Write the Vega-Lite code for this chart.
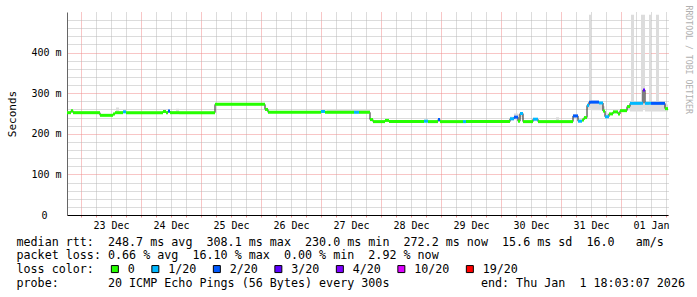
{
  "$schema": "https://vega.github.io/schema/vega-lite/v6.json",
  "width": 601,
  "height": 203,
  "autosize": {"type": "none"},
  "padding": {"left": 67, "top": 12, "right": 29, "bottom": 82},
  "background": "#ffffff",
  "data": {
    "values": [
      {"t": "2025-12-22T18:24:00Z", "rtt": 0.252, "loss": 0, "lo": 0.250, "hi": 0.255},
      {"t": "2025-12-22T20:00:00Z", "rtt": 0.257, "loss": 0, "lo": 0.255, "hi": 0.259},
      {"t": "2025-12-22T20:48:00Z", "rtt": 0.252, "loss": 0, "lo": 0.250, "hi": 0.255},
      {"t": "2025-12-23T07:36:00Z", "rtt": 0.2455, "loss": 0, "lo": 0.244, "hi": 0.248},
      {"t": "2025-12-23T12:48:00Z", "rtt": 0.249, "loss": 0, "lo": 0.247, "hi": 0.251},
      {"t": "2025-12-23T13:36:00Z", "rtt": 0.252, "loss": 0, "lo": 0.250, "hi": 0.255},
      {"t": "2025-12-23T14:00:00Z", "rtt": 0.252, "loss": 0, "lo": 0.250, "hi": 0.265},
      {"t": "2025-12-23T15:12:00Z", "rtt": 0.252, "loss": 0, "lo": 0.250, "hi": 0.255},
      {"t": "2025-12-23T16:48:00Z", "rtt": 0.254, "loss": 1, "lo": 0.251, "hi": 0.258},
      {"t": "2025-12-23T18:00:00Z", "rtt": 0.252, "loss": 0, "lo": 0.250, "hi": 0.255},
      {"t": "2025-12-24T08:48:00Z", "rtt": 0.255, "loss": 0, "lo": 0.252, "hi": 0.258},
      {"t": "2025-12-24T10:00:00Z", "rtt": 0.252, "loss": 0, "lo": 0.250, "hi": 0.255},
      {"t": "2025-12-24T10:48:00Z", "rtt": 0.256, "loss": 2, "lo": 0.252, "hi": 0.259},
      {"t": "2025-12-24T11:36:00Z", "rtt": 0.252, "loss": 0, "lo": 0.250, "hi": 0.255},
      {"t": "2025-12-24T14:00:00Z", "rtt": 0.252, "loss": 0, "lo": 0.250, "hi": 0.262},
      {"t": "2025-12-24T15:12:00Z", "rtt": 0.252, "loss": 0, "lo": 0.250, "hi": 0.255},
      {"t": "2025-12-25T05:36:00Z", "rtt": 0.2725, "loss": 0, "lo": 0.270, "hi": 0.276},
      {"t": "2025-12-26T01:36:00Z", "rtt": 0.260, "loss": 0, "lo": 0.258, "hi": 0.263},
      {"t": "2025-12-26T02:48:00Z", "rtt": 0.253, "loss": 0, "lo": 0.251, "hi": 0.256},
      {"t": "2025-12-27T00:00:00Z", "rtt": 0.255, "loss": 1, "lo": 0.252, "hi": 0.259},
      {"t": "2025-12-27T01:36:00Z", "rtt": 0.253, "loss": 0, "lo": 0.251, "hi": 0.256},
      {"t": "2025-12-27T02:24:00Z", "rtt": 0.253, "loss": 0, "lo": 0.251, "hi": 0.259},
      {"t": "2025-12-27T13:12:00Z", "rtt": 0.253, "loss": 1, "lo": 0.251, "hi": 0.259},
      {"t": "2025-12-27T15:12:00Z", "rtt": 0.253, "loss": 0, "lo": 0.251, "hi": 0.259},
      {"t": "2025-12-27T19:36:00Z", "rtt": 0.235, "loss": 0, "lo": 0.233, "hi": 0.238},
      {"t": "2025-12-27T20:48:00Z", "rtt": 0.230, "loss": 0, "lo": 0.228, "hi": 0.233},
      {"t": "2025-12-28T01:36:00Z", "rtt": 0.233, "loss": 0, "lo": 0.231, "hi": 0.236},
      {"t": "2025-12-28T03:12:00Z", "rtt": 0.230, "loss": 0, "lo": 0.228, "hi": 0.233},
      {"t": "2025-12-28T17:12:00Z", "rtt": 0.231, "loss": 1, "lo": 0.229, "hi": 0.235},
      {"t": "2025-12-28T18:48:00Z", "rtt": 0.230, "loss": 0, "lo": 0.228, "hi": 0.233},
      {"t": "2025-12-28T22:48:00Z", "rtt": 0.235, "loss": 2, "lo": 0.231, "hi": 0.238},
      {"t": "2025-12-28T23:36:00Z", "rtt": 0.230, "loss": 0, "lo": 0.228, "hi": 0.233},
      {"t": "2025-12-29T08:48:00Z", "rtt": 0.230, "loss": 1, "lo": 0.228, "hi": 0.234},
      {"t": "2025-12-29T10:00:00Z", "rtt": 0.230, "loss": 0, "lo": 0.228, "hi": 0.233},
      {"t": "2025-12-30T03:36:00Z", "rtt": 0.237, "loss": 1, "lo": 0.233, "hi": 0.242},
      {"t": "2025-12-30T05:12:00Z", "rtt": 0.241, "loss": 2, "lo": 0.235, "hi": 0.250},
      {"t": "2025-12-30T06:48:00Z", "rtt": 0.231, "loss": 0, "lo": 0.229, "hi": 0.248},
      {"t": "2025-12-30T07:36:00Z", "rtt": 0.250, "loss": 1, "lo": 0.240, "hi": 0.253},
      {"t": "2025-12-30T08:48:00Z", "rtt": 0.230, "loss": 0, "lo": 0.228, "hi": 0.233},
      {"t": "2025-12-30T12:48:00Z", "rtt": 0.236, "loss": 1, "lo": 0.231, "hi": 0.239},
      {"t": "2025-12-30T14:48:00Z", "rtt": 0.230, "loss": 0, "lo": 0.228, "hi": 0.233},
      {"t": "2025-12-30T22:00:00Z", "rtt": 0.230, "loss": 0, "lo": 0.228, "hi": 0.241},
      {"t": "2025-12-30T23:12:00Z", "rtt": 0.230, "loss": 0, "lo": 0.228, "hi": 0.233},
      {"t": "2025-12-31T04:48:00Z", "rtt": 0.244, "loss": 2, "lo": 0.238, "hi": 0.248},
      {"t": "2025-12-31T06:48:00Z", "rtt": 0.231, "loss": 1, "lo": 0.229, "hi": 0.235},
      {"t": "2025-12-31T08:24:00Z", "rtt": 0.234, "loss": 0, "lo": 0.232, "hi": 0.236},
      {"t": "2025-12-31T09:12:00Z", "rtt": 0.240, "loss": 0, "lo": 0.238, "hi": 0.242},
      {"t": "2025-12-31T10:24:00Z", "rtt": 0.270, "loss": 1, "lo": 0.262, "hi": 0.276},
      {"t": "2025-12-31T11:12:00Z", "rtt": 0.278, "loss": 2, "lo": 0.262, "hi": 0.493},
      {"t": "2025-12-31T12:00:00Z", "rtt": 0.278, "loss": 2, "lo": 0.258, "hi": 0.282},
      {"t": "2025-12-31T15:12:00Z", "rtt": 0.276, "loss": 1, "lo": 0.258, "hi": 0.280},
      {"t": "2025-12-31T16:48:00Z", "rtt": 0.256, "loss": 0, "lo": 0.252, "hi": 0.268},
      {"t": "2025-12-31T17:36:00Z", "rtt": 0.242, "loss": 1, "lo": 0.238, "hi": 0.250},
      {"t": "2025-12-31T19:12:00Z", "rtt": 0.249, "loss": 0, "lo": 0.246, "hi": 0.252},
      {"t": "2025-12-31T20:48:00Z", "rtt": 0.254, "loss": 0, "lo": 0.252, "hi": 0.257},
      {"t": "2025-12-31T22:48:00Z", "rtt": 0.249, "loss": 0, "lo": 0.247, "hi": 0.252},
      {"t": "2025-12-31T23:36:00Z", "rtt": 0.257, "loss": 0, "lo": 0.255, "hi": 0.259},
      {"t": "2026-01-01T02:24:00Z", "rtt": 0.267, "loss": 0, "lo": 0.258, "hi": 0.271},
      {"t": "2026-01-01T03:36:00Z", "rtt": 0.275, "loss": 1, "lo": 0.255, "hi": 0.279},
      {"t": "2026-01-01T04:00:00Z", "rtt": 0.275, "loss": 1, "lo": 0.255, "hi": 0.493},
      {"t": "2026-01-01T05:12:00Z", "rtt": 0.275, "loss": 1, "lo": 0.255, "hi": 0.279},
      {"t": "2026-01-01T08:00:00Z", "rtt": 0.275, "loss": 1, "lo": 0.255, "hi": 0.493},
      {"t": "2026-01-01T08:48:00Z", "rtt": 0.308, "loss": 3, "lo": 0.262, "hi": 0.493},
      {"t": "2026-01-01T09:36:00Z", "rtt": 0.275, "loss": 1, "lo": 0.255, "hi": 0.279},
      {"t": "2026-01-01T11:12:00Z", "rtt": 0.275, "loss": 1, "lo": 0.255, "hi": 0.493},
      {"t": "2026-01-01T12:00:00Z", "rtt": 0.275, "loss": 2, "lo": 0.255, "hi": 0.279},
      {"t": "2026-01-01T14:00:00Z", "rtt": 0.275, "loss": 2, "lo": 0.255, "hi": 0.493},
      {"t": "2026-01-01T15:12:00Z", "rtt": 0.275, "loss": 2, "lo": 0.255, "hi": 0.279},
      {"t": "2026-01-01T17:36:00Z", "rtt": 0.262, "loss": 0, "lo": 0.255, "hi": 0.272},
      {"t": "2026-01-01T18:48:00Z", "rtt": 0.262, "loss": 0, "lo": 0.255, "hi": 0.272}
    ]
  },
  "encoding": {
    "x": {
      "field": "t",
      "type": "temporal",
      "scale": {"type": "utc", "domain": [1766427840000, 1767293280000]},
      "axis": {
        "title": [
          "median rtt:\u00a0\u00a0248.7 ms avg\u00a0\u00a0308.1 ms max\u00a0\u00a0230.0 ms min\u00a0\u00a0272.2 ms now\u00a0\u00a015.6 ms sd\u00a0\u00a016.0\u00a0\u00a0\u00a0am/s",
          "packet loss: 0.66 % avg\u00a0\u00a016.10 % max\u00a0\u00a00.00 % min\u00a0\u00a02.92 % now",
          "loss color:",
          "probe:\u00a0\u00a0\u00a0\u00a0\u00a0\u00a0\u00a020 ICMP Echo Pings (56 Bytes) every 300s\u00a0\u00a0\u00a0\u00a0\u00a0\u00a0\u00a0\u00a0\u00a0\u00a0\u00a0\u00a0\u00a0end: Thu Jan\u00a0\u00a01 18:03:07 2026"
        ],
        "titleX": -51,
        "titleY": 21,
        "titleAlign": "left",
        "titleBaseline": "top",
        "titleAngle": 0,
        "titleFont": "DejaVu Sans Mono",
        "titleFontSize": 11.7,
        "titleFontWeight": "normal",
        "titleColor": "#000000",
        "titleLineHeight": 13.9,
        "values": [1766448000000, 1766469600000, 1766491200000, 1766512800000, 1766534400000, 1766556000000, 1766577600000, 1766599200000, 1766620800000, 1766642400000, 1766664000000, 1766685600000, 1766707200000, 1766728800000, 1766750400000, 1766772000000, 1766793600000, 1766815200000, 1766836800000, 1766858400000, 1766880000000, 1766901600000, 1766923200000, 1766944800000, 1766966400000, 1766988000000, 1767009600000, 1767031200000, 1767052800000, 1767074400000, 1767096000000, 1767117600000, 1767139200000, 1767160800000, 1767182400000, 1767204000000, 1767225600000, 1767247200000, 1767268800000, 1767290400000],
        "grid": true,
        "gridColor": {"condition": {"test": "utchours(datum.value) == 0", "value": "#f08c8c"}, "value": "#b8b8b8"},
        "gridDash": [1, 1],
        "gridWidth": 1,
        "labelExpr": "utchours(datum.value) == 12 ? utcFormat(datum.value, '%d %b') : ''",
        "labelFont": "DejaVu Sans Mono",
        "labelFontSize": 10,
        "labelColor": "#000000",
        "labelPadding": 3,
        "labelOverlap": false,
        "labelFlush": false,
        "labelBound": false,
        "ticks": true,
        "tickSize": 2,
        "tickColor": "#f08c8c",
        "domainColor": "#000000",
        "domainWidth": 1
      }
    }
  },
  "resolve": {"axis": {"y": "independent"}},
  "layer": [
    {
      "mark": {"type": "area", "interpolate": "step-after", "color": "#dcdcdc"},
      "encoding": {
        "y": {
          "field": "lo",
          "type": "quantitative",
          "scale": {"domain": [0, 0.5], "nice": false, "zero": true},
          "axis": {
            "orient": "left",
            "title": "Seconds",
            "titleFont": "DejaVu Sans Mono",
            "titleFontSize": 11,
            "titleFontWeight": "normal",
            "titleColor": "#000000",
            "titlePadding": 13,
            "values": [0, 0.1, 0.2, 0.3, 0.4],
            "grid": true,
            "gridColor": "#f08c8c",
            "gridDash": [1, 1],
            "gridWidth": 1,
            "labelExpr": "datum.value == 0 ? '0\u2800\u2800' : format(datum.value * 1000, '.0f') + ' m'",
            "labelFont": "DejaVu Sans Mono",
            "labelFontSize": 10,
            "labelColor": "#000000",
            "labelPadding": 6,
            "labelOverlap": false,
            "labelFlush": false,
            "labelBound": false,
            "ticks": false,
            "domainColor": "#666666",
            "domainWidth": 1,
            "zindex": 0
          }
        },
        "y2": {"field": "hi"}
      }
    },
    {
      "mark": {"type": "line", "interpolate": "step-after", "color": "#202020", "strokeWidth": 1},
      "encoding": {
        "y": {
          "field": "rtt",
          "type": "quantitative",
          "axis": {
            "orient": "left",
            "title": null,
            "labels": false,
            "ticks": false,
            "domain": false,
            "values": [0.02, 0.04, 0.06, 0.08, 0.12, 0.14, 0.16, 0.18, 0.22, 0.24, 0.26, 0.28, 0.32, 0.34, 0.36, 0.38, 0.42, 0.44, 0.46, 0.48],
            "grid": true,
            "gridColor": "#b8b8b8",
            "gridDash": [1, 1],
            "gridWidth": 1,
            "zindex": 0
          }
        }
      }
    },
    {
      "transform": [
        {"window": [{"op": "lead", "field": "t", "as": "tn"}], "sort": [{"field": "t"}]},
        {"filter": "datum.tn != null"}
      ],
      "mark": {"type": "rule", "strokeWidth": 3, "strokeCap": "butt"},
      "encoding": {
        "x2": {"field": "tn"},
        "y": {
          "field": "rtt",
          "type": "quantitative",
          "axis": {
            "orient": "right",
            "title": "RRDTOOL / TOBI OETIKER",
            "labels": false,
            "ticks": false,
            "domain": false,
            "grid": false,
            "titleAngle": 90,
            "titleX": 19,
            "titleY": -7,
            "titleAlign": "left",
            "titleBaseline": "middle",
            "titleFont": "DejaVu Sans Mono",
            "titleFontSize": 8.2,
            "titleFontWeight": "normal",
            "titleColor": "#b0b0b0"
          }
        },
        "stroke": {
          "field": "loss",
          "type": "ordinal",
          "scale": {"domain": [0, 1, 2, 3, 4, 10, 19, 20], "range": ["#26ff00", "#00b8ff", "#0059ff", "#5e00ff", "#7e00ff", "#dd00ff", "#ff0000", "#ff0000"]},
          "legend": null
        }
      }
    },
    {
      "mark": {"type": "point", "shape": "square", "filled": true, "opacity": 0, "size": 1},
      "encoding": {
        "y": {"field": "rtt", "type": "quantitative", "axis": null},
        "fill": {
          "field": "loss",
          "type": "ordinal",
          "scale": {"domain": [0, 1, 2, 3, 4, 10, 19], "range": ["#26ff00", "#00b8ff", "#0059ff", "#5e00ff", "#7e00ff", "#dd00ff", "#ff0000"]},
          "legend": {
            "orient": "none",
            "legendX": 42,
            "legendY": 251,
            "direction": "horizontal",
            "title": null,
            "padding": 0,
            "symbolType": "square",
            "symbolSize": 49,
            "symbolStrokeColor": "#000000",
            "symbolStrokeWidth": 1,
            "symbolOpacity": 1,
            "labelExpr": "datum.value == 0 ? '0' : datum.value + '/20'",
            "labelFont": "DejaVu Sans Mono",
            "labelFontSize": 11.7,
            "labelColor": "#000000",
            "labelOffset": 7,
            "columnPadding": 14.5
          }
        }
      }
    },
    {
      "data": {"values": [{}]},
      "mark": {"type": "point", "shape": "triangle-right", "filled": true, "color": "#8b1a1a", "size": 36, "opacity": 1, "xOffset": 3},
      "encoding": {
        "x": {"datum": 1767293280000, "type": "temporal"},
        "y": {"datum": 0, "type": "quantitative", "axis": null}
      }
    },
    {
      "data": {"values": [{}]},
      "mark": {"type": "point", "shape": "triangle-up", "filled": true, "color": "#8b1a1a", "size": 36, "opacity": 1, "yOffset": -2},
      "encoding": {
        "x": {"datum": 1766427840000, "type": "temporal"},
        "y": {"datum": 0.5, "type": "quantitative", "axis": null}
      }
    }
  ],
  "config": {
    "view": {"stroke": null},
    "font": "DejaVu Sans Mono"
  }
}
